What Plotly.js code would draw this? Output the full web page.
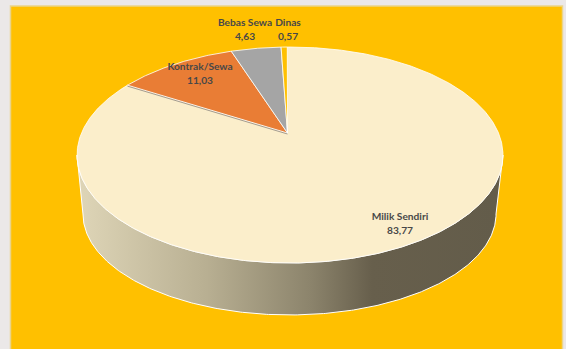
<!DOCTYPE html>
<html>
<head>
<meta charset="utf-8">
<script src="https://cdn.plot.ly/plotly-3.0.1.min.js"></script>
<style>html,body{margin:0;padding:0;background:#ebe8e8;overflow:hidden}#chart{width:566px;height:349px}</style>
</head>
<body>
<div id="chart"></div>
<script>
// Housing tenure shares, percent
const categories = ['Milik Sendiri', 'Kontrak/Sewa', 'Bebas Sewa', 'Dinas'];
const shares = [83.77, 11.03, 4.63, 0.57];
const sliceColors = ['#FBEECB', '#E97D35', '#A5A5A5', '#FFC000'];
const labelCenterX = [400, 200, 245, 288];
const labelTopY = [216, 66, 22, 22];

// Tilted disc: a circle under a simple perspective, in page-sized axis units
const topDisc = {cx: 290, cy: 133, rx: 208.5, ry: 103.5, p: 0.2037};
const bottomDisc = {cx: 289.5, cy: 193.4, rx: 202.2, ry: 96.8, p: 0.2037};
const apex = [287.5, 133];
const firstSliceAngle = -0.9;

function project(disc, deg) {
  const t = deg * Math.PI / 180;
  const a = Math.sin(t), b = -Math.cos(t);
  const w = 1 - disc.p * b;
  return [disc.cx + disc.rx * a / w, disc.cy + disc.ry * b / w];
}
function arc(disc, from, to) {
  const n = Math.max(2, Math.ceil(Math.abs(to - from) * 2));
  const pts = [];
  for (let i = 0; i <= n; i++) pts.push(project(disc, from + (to - from) * i / n));
  return pts;
}

const total = shares.reduce((s, v) => s + v, 0);
const traces = [];

// Outer wall, shaded left to right; the visible part runs between the disc's side extremes
const sideAngle = Math.asin(topDisc.p) * 180 / Math.PI;
const wallFrom = 90 + sideAngle;
const wallTo = 270 - sideAngle;
const wall = arc(topDisc, wallFrom, wallTo).concat(arc(bottomDisc, wallTo, wallFrom));
wall.push(wall[0]);
traces.push({
  type: 'scatter', mode: 'lines',
  x: wall.map(p => p[0]), y: wall.map(p => p[1]),
  fill: 'toself',
  fillgradient: {
    type: 'horizontal', start: 83, stop: 496,
    colorscale: [[0, '#DDD4B6'], [0.3, '#B8AF92'], [0.55, '#8C846C'], [0.7, '#675F4C'], [1, '#635C4A']]
  },
  line: {color: '#FFFFFF', width: 1},
  hoverinfo: 'skip', showlegend: false
});

// Top face slices, clockwise from twelve o'clock
let start = firstSliceAngle;
const sliceEnds = [];
shares.forEach((v, i) => {
  const end = start + v / total * 360;
  const pts = [apex].concat(arc(topDisc, start, end));
  pts.push(pts[0]);
  traces.push({
    type: 'scatter', mode: 'lines', name: categories[i],
    x: pts.map(p => p[0]), y: pts.map(p => p[1]),
    fill: 'toself', fillcolor: sliceColors[i],
    line: {color: 'rgba(255,255,255,0.8)', width: 1},
    hoverinfo: 'name', showlegend: false
  });
  sliceEnds.push(end);
  start = end;
});

// Thin shadow under the edge shared by the two largest slices
const edgeEnd = project(topDisc, sliceEnds[0]);
traces.push({
  type: 'scatter', mode: 'lines',
  x: [apex[0], edgeEnd[0]], y: [apex[1] + 1, edgeEnd[1] + 1],
  line: {color: '#A39B8E', width: 1},
  hoverinfo: 'skip', showlegend: false
});

// Two-line data labels: category name above its value
const fmt = v => v.toFixed(2).replace('.', ',');
const labelFont = {family: 'Lato, Carlito, sans-serif', size: 10.2, color: '#484848', weight: 700};
traces.push({
  type: 'scatter', mode: 'text', x: labelCenterX, y: labelTopY.map(y => y + 1),
  text: categories, textposition: 'middle center', textfont: labelFont,
  hoverinfo: 'skip', showlegend: false
});
traces.push({
  type: 'scatter', mode: 'text', x: labelCenterX, y: labelTopY.map(y => y + 15),
  text: shares.map(fmt), textposition: 'middle center', textfont: labelFont,
  hoverinfo: 'skip', showlegend: false
});

const hidden = {visible: false, fixedrange: true, autorange: false};
Plotly.newPlot('chart', traces, {
  width: 566, height: 349,
  margin: {l: 0, r: 0, t: 0, b: 0},
  paper_bgcolor: '#EBE8E8', plot_bgcolor: 'rgba(0,0,0,0)',
  xaxis: Object.assign({range: [0, 566]}, hidden),
  yaxis: Object.assign({range: [349, 0]}, hidden),
  shapes: [{
    type: 'rect', layer: 'below', xref: 'x', yref: 'y',
    x0: 10.5, x1: 562.5, y0: 6, y1: 360,
    fillcolor: '#FFC000', line: {color: '#EAD48A', width: 1.5}
  }]
}, {displayModeBar: false, staticPlot: true});
</script>
</body>
</html>
